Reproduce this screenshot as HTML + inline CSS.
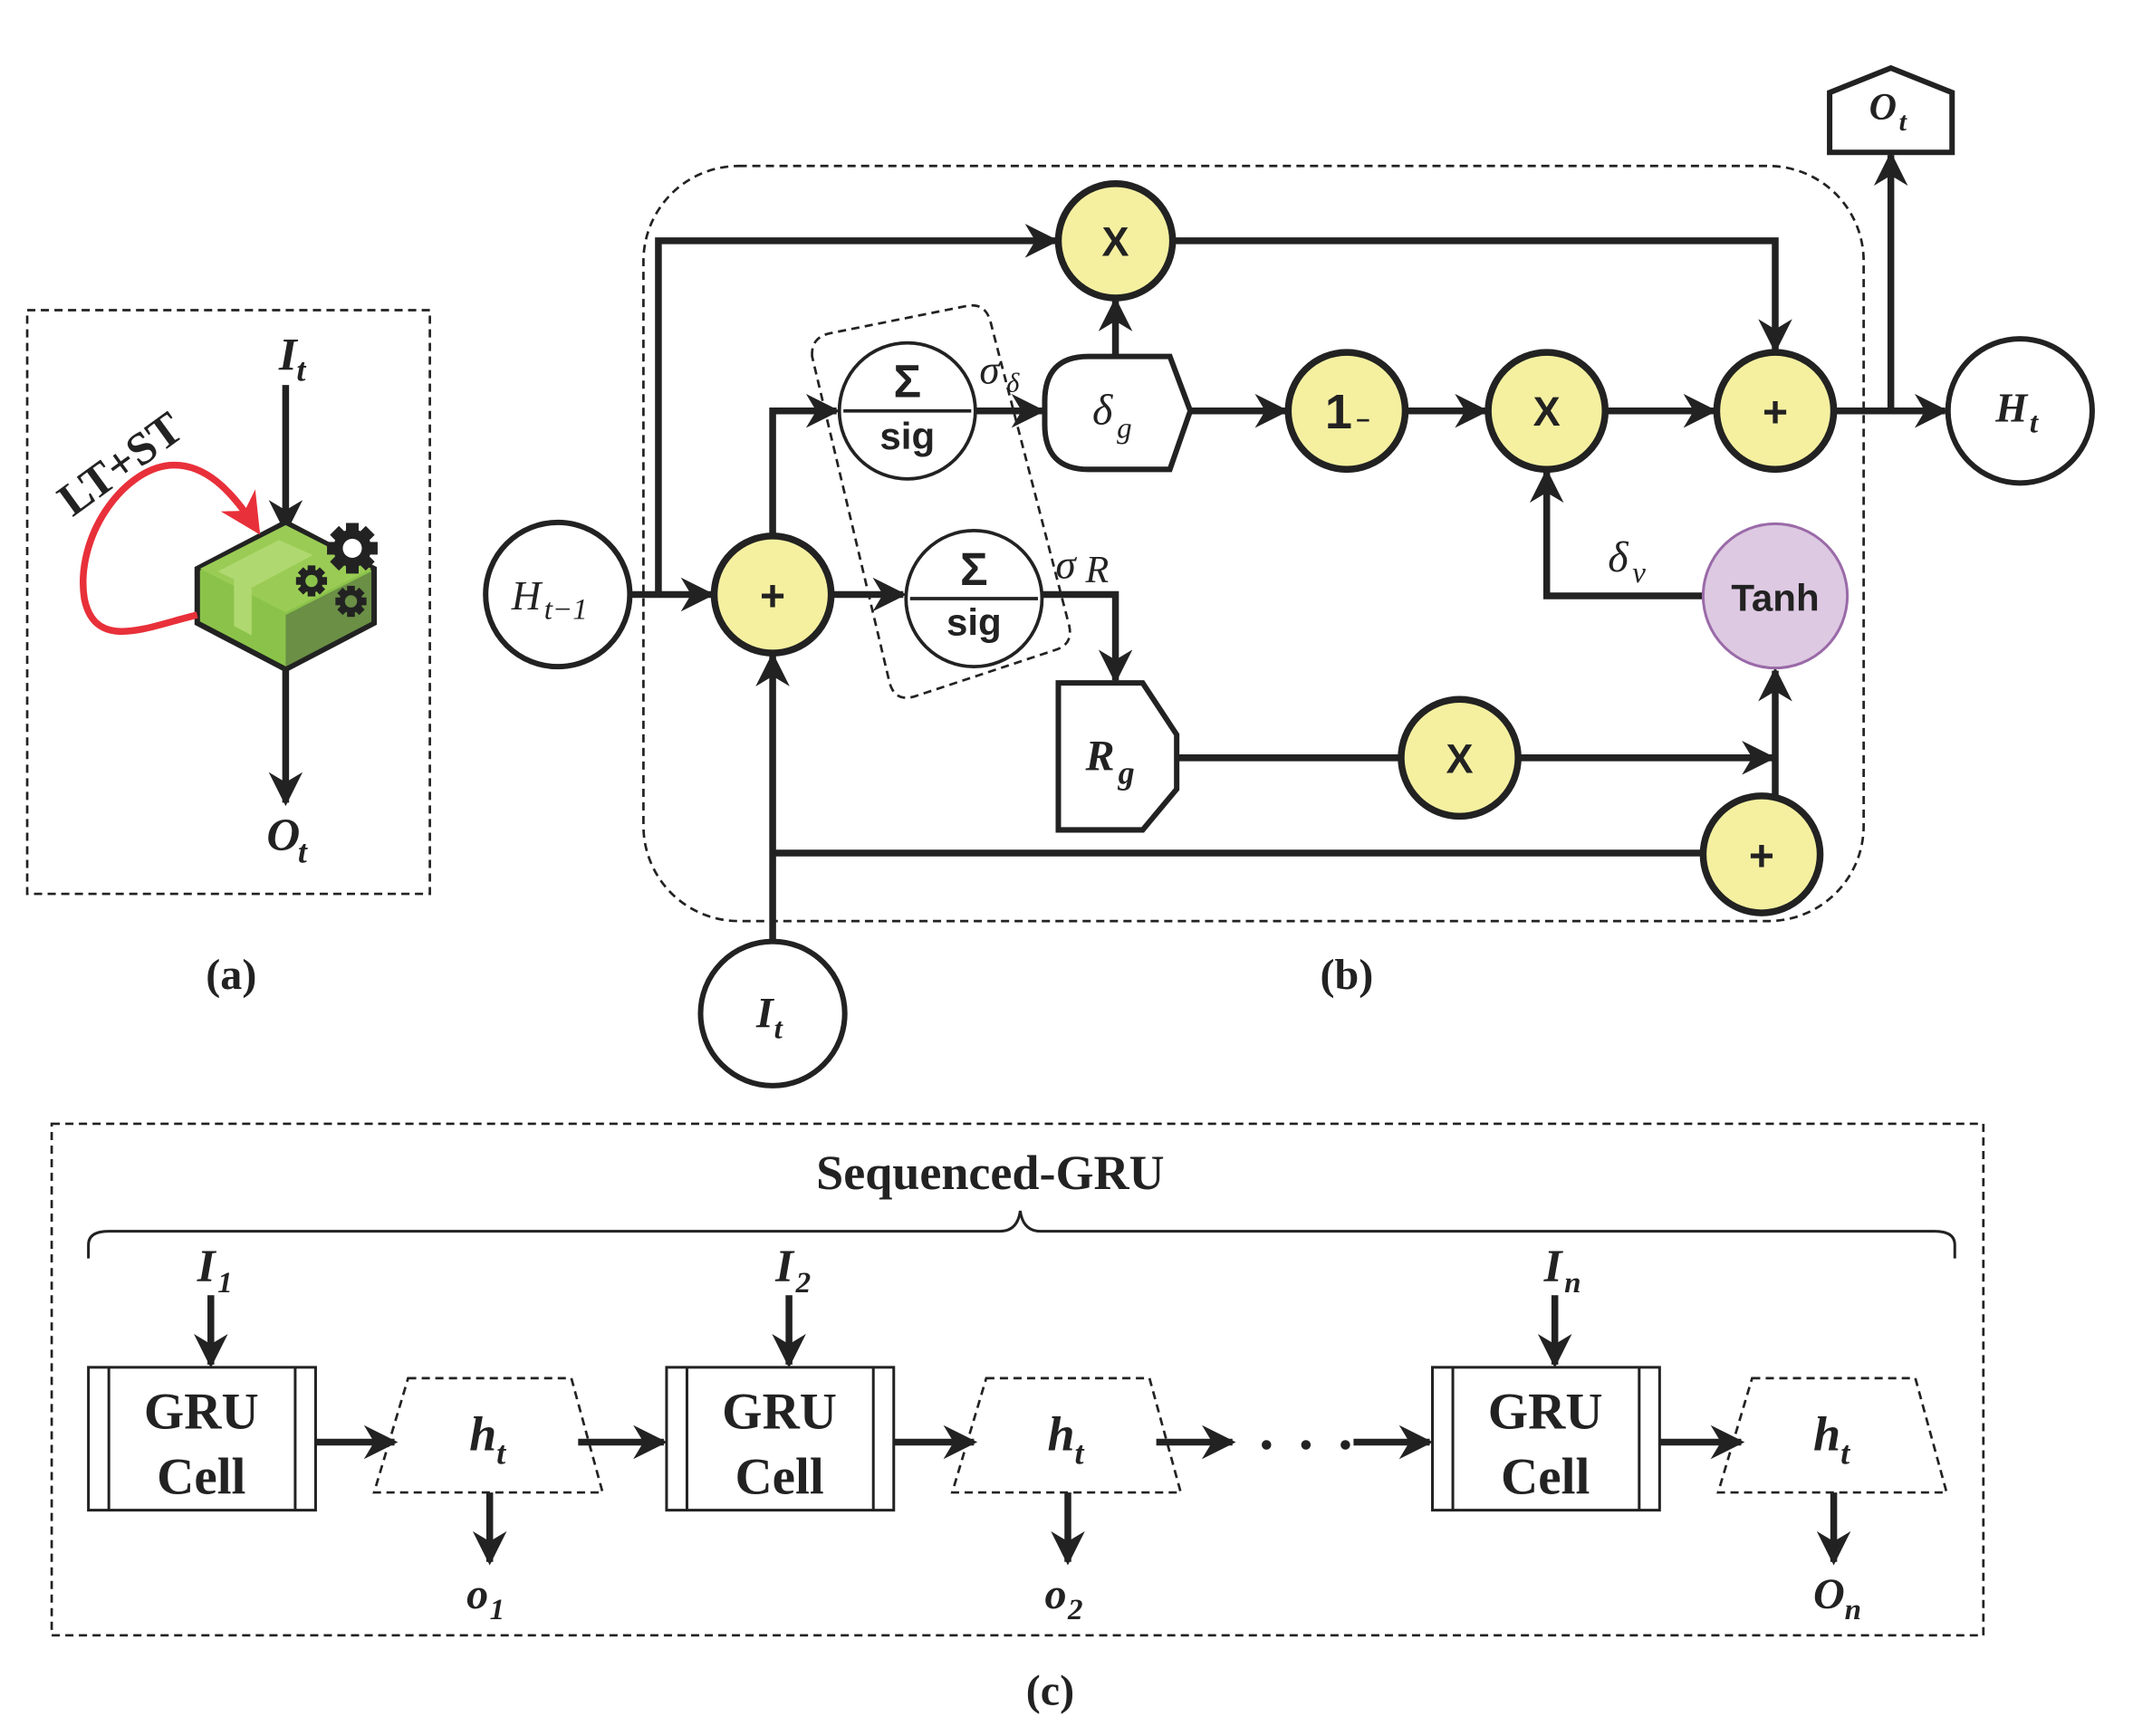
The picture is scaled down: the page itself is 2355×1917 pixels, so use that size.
<!DOCTYPE html>
<html><head><meta charset="utf-8"><style>html,body{margin:0;padding:0;background:#fff}svg{display:block}</style></head><body>
<svg width="2355" height="1917" viewBox="0 0 1568 1276" preserveAspectRatio="none" xmlns="http://www.w3.org/2000/svg">
<defs>
<marker id="a" viewBox="0 0 10 10" refX="9" refY="5" markerWidth="5" markerHeight="5" orient="auto"><path d="M0,0 L10,5 L0,10 L3,5 z" fill="#222"/></marker>
<marker id="ared" viewBox="0 0 10 10" refX="8" refY="5" markerWidth="6" markerHeight="6" orient="auto"><path d="M0,0 L10,5 L0,10 L3,5 z" fill="#e8303a"/></marker>
<g id="gear">
<rect x="-3" y="-12" width="6" height="24" fill="#222"/>
<rect x="-3" y="-12" width="6" height="24" fill="#222" transform="rotate(45)"/>
<rect x="-3" y="-12" width="6" height="24" fill="#222" transform="rotate(90)"/>
<rect x="-3" y="-12" width="6" height="24" fill="#222" transform="rotate(135)"/>
<circle r="9" fill="#222"/>
</g>
</defs>
<style>
.t{font-family:"Liberation Serif",serif;font-weight:bold;font-style:italic;fill:#222}
.m{font-family:"Liberation Serif",serif;font-style:italic;fill:#222}
.s{font-family:"Liberation Sans",sans-serif;font-weight:bold;fill:#222}
.b{font-family:"Liberation Serif",serif;font-weight:bold;fill:#222}
.ln{stroke:#222;stroke-width:5;fill:none}
.y{fill:#f5f0a0;stroke:#222;stroke-width:5}
.w{fill:#fff;stroke:#222;stroke-width:4}
.d{fill:none;stroke:#222;stroke-width:1.8;stroke-dasharray:6,4}
</style>

<!-- (a) -->
<rect x="20" y="228" width="296" height="429" class="d"/>
<text x="205" y="272" class="t" font-size="34">I</text><text x="218" y="280" class="t" font-size="24">t</text>
<line x1="210" y1="283" x2="210" y2="390" class="ln" marker-end="url(#a)"/>
<polygon points="210,384 275,418 275,458 210,492 145,458 145,418" fill="#8bc34a" stroke="#222" stroke-width="4"/>
<polygon points="210,490 273,457 273,420 210,452" fill="#6a8f45"/>
<polygon points="147,418 210,386 273,418 210,450" fill="#9acc55"/>
<polygon points="160,420 205,397 230,408 185,432" fill="#b0d870"/>
<path d="M172,425 L172,460 L185,467 L185,432 Z" fill="#b0d870"/>
<use href="#gear" transform="translate(259,403) scale(1.55)"/>
<circle cx="259" cy="403" r="7" fill="#fff"/>
<use href="#gear" transform="translate(229,427) scale(0.95)"/>
<circle cx="229" cy="427" r="4.5" fill="#8bc34a"/>
<use href="#gear" transform="translate(258,442) scale(0.95)"/>
<circle cx="258" cy="442" r="4.5" fill="#6a8f45"/>
<path d="M145,452 C110,460 70,480 62,440 C55,395 90,345 125,342 C150,340 170,360 188,388" fill="none" stroke="#e8303a" stroke-width="5" marker-end="url(#ared)"/>
<text x="95" y="350" class="b" font-size="34" transform="rotate(-36 95 350)" text-anchor="middle">LT+ST</text>
<line x1="210" y1="492" x2="210" y2="590" class="ln" marker-end="url(#a)"/>
<text x="196" y="625" class="t" font-size="34">O</text><text x="219" y="634" class="t" font-size="24">t</text>
<text x="170" y="727" class="b" font-size="32" text-anchor="middle">(a)</text>

<!-- (b) -->
<rect x="473" y="122" width="897" height="555" rx="70" class="d"/>
<path d="M597,262 Q596,248 610,245 L710,225 Q724,222 728,236 L786,460 Q789,474 775,478 L672,512 Q658,516 654,502 Z" class="d"/>
<line x1="463" y1="437" x2="523" y2="437" class="ln" marker-end="url(#a)"/>
<polyline points="484,437 484,177 776,177" class="ln" marker-end="url(#a)"/>
<polyline points="568,394 568,302 615,302" class="ln" marker-end="url(#a)"/>
<line x1="611" y1="437" x2="664" y2="437" class="ln" marker-end="url(#a)"/>
<line x1="717" y1="302" x2="766" y2="302" class="ln" marker-end="url(#a)"/>
<line x1="820" y1="262" x2="820" y2="221" class="ln" marker-end="url(#a)"/>
<line x1="875" y1="302" x2="945" y2="302" class="ln" marker-end="url(#a)"/>
<line x1="1033" y1="302" x2="1092" y2="302" class="ln" marker-end="url(#a)"/>
<line x1="1180" y1="302" x2="1260" y2="302" class="ln" marker-end="url(#a)"/>
<line x1="1348" y1="302" x2="1430" y2="302" class="ln" marker-end="url(#a)"/>
<line x1="1390" y1="302" x2="1390" y2="114" class="ln" marker-end="url(#a)"/>
<polyline points="862,177 1305,177 1305,257" class="ln" marker-end="url(#a)"/>
<polyline points="1252,438 1137,438 1137,347" class="ln" marker-end="url(#a)"/>
<polyline points="766,437 820,437 820,500" class="ln" marker-end="url(#a)"/>
<line x1="865" y1="557" x2="1030" y2="557" class="ln"/>
<line x1="1116" y1="557" x2="1303" y2="557" class="ln" marker-end="url(#a)"/>
<line x1="1305" y1="585" x2="1305" y2="493" class="ln" marker-end="url(#a)"/>
<line x1="568" y1="627" x2="1252" y2="627" class="ln"/>
<line x1="568" y1="692" x2="568" y2="482" class="ln" marker-end="url(#a)"/>

<circle cx="410" cy="437" r="53" class="w"/>
<text x="376" y="448" class="m" font-size="30">H</text><text x="400" y="455" class="m" font-size="22">t−1</text>
<circle cx="568" cy="437" r="43" class="y"/><text x="568" y="449" class="s" font-size="32" text-anchor="middle">+</text>
<circle cx="820" cy="177" r="42" class="y"/><text x="820" y="188" class="s" font-size="30" text-anchor="middle">X</text>
<circle cx="667" cy="302" r="50" fill="#fff" stroke="#222" stroke-width="2.5"/>
<line x1="620" y1="302" x2="714" y2="302" stroke="#222" stroke-width="2.5"/>
<text x="667" y="292" class="s" font-size="34" text-anchor="middle">Σ</text><text x="667" y="330" class="s" font-size="28" text-anchor="middle">sig</text>
<circle cx="716" cy="440" r="50" fill="#fff" stroke="#222" stroke-width="2.5"/>
<line x1="669" y1="440" x2="763" y2="440" stroke="#222" stroke-width="2.5"/>
<text x="716" y="430" class="s" font-size="34" text-anchor="middle">Σ</text><text x="716" y="467" class="s" font-size="28" text-anchor="middle">sig</text>
<text x="720" y="282" class="m" font-size="30">σ</text><text x="740" y="288" class="m" font-size="20">δ</text>
<text x="776" y="425" class="m" font-size="30">σ</text><text x="798" y="428" class="m" font-size="28">R</text>
<path d="M800,262 L860,262 L875,302 L860,345 L800,345 Q768,345 768,312 L768,295 Q768,262 800,262 Z" class="w" stroke-width="5"/>
<text x="803" y="312" class="m" font-size="32">δ</text><text x="821" y="322" class="m" font-size="22">g</text>
<circle cx="990" cy="302" r="43" class="y"/><text x="984" y="315" class="s" font-size="36" text-anchor="middle">1</text><text x="997" y="314" class="s" font-size="18">–</text>
<circle cx="1137" cy="302" r="43" class="y"/><text x="1137" y="313" class="s" font-size="30" text-anchor="middle">X</text>
<circle cx="1305" cy="302" r="43" class="y"/><text x="1305" y="314" class="s" font-size="32" text-anchor="middle">+</text>
<circle cx="1485" cy="302" r="53" class="w"/>
<text x="1467" y="310" class="t" font-size="30">H</text><text x="1492" y="318" class="t" font-size="22">t</text>
<polygon points="1345,112 1345,68 1390,50 1435,68 1435,112" class="w" stroke-width="5"/>
<text x="1374" y="88" class="t" font-size="28">O</text><text x="1396" y="96" class="t" font-size="20">t</text>
<circle cx="1305" cy="438" r="53" fill="#ddc9e2" stroke="#9a6aa8" stroke-width="2"/>
<text x="1305" y="449" class="s" font-size="28" text-anchor="middle">Tanh</text>
<text x="1182" y="420" class="m" font-size="32">δ</text><text x="1200" y="428" class="m" font-size="22">v</text>
<polygon points="778,502 840,502 865,540 865,580 840,610 778,610" class="w" stroke-width="5"/>
<text x="798" y="566" class="t" font-size="32">R</text><text x="822" y="576" class="t" font-size="24">g</text>
<circle cx="1073" cy="557" r="43" class="y"/><text x="1073" y="568" class="s" font-size="30" text-anchor="middle">X</text>
<circle cx="1295" cy="628" r="43" class="y"/><text x="1295" y="640" class="s" font-size="32" text-anchor="middle">+</text>
<circle cx="568" cy="745" r="53" class="w"/>
<text x="556" y="755" class="t" font-size="32">I</text><text x="569" y="763" class="t" font-size="22">t</text>
<text x="990" y="727" class="b" font-size="32" text-anchor="middle">(b)</text>

<!-- (c) -->
<rect x="38" y="826" width="1420" height="376" class="d"/>
<text x="728" y="874" class="b" font-size="36" text-anchor="middle">Sequenced-GRU</text>
<path d="M65,925 L65,915 Q65,905 80,905 L735,905 Q748,905 750,890 Q752,905 765,905 L1422,905 Q1437,905 1437,915 L1437,925" fill="none" stroke="#222" stroke-width="2"/>

<g>
<text x="145" y="942" class="t" font-size="34">I</text><text x="160" y="950" class="t" font-size="22">1</text>
<line x1="155" y1="952" x2="155" y2="1003" class="ln" marker-end="url(#a)"/>
<rect x="65" y="1005" width="167" height="105" fill="#fff" stroke="#222" stroke-width="2"/>
<line x1="80" y1="1005" x2="80" y2="1110" stroke="#222" stroke-width="2"/><line x1="217" y1="1005" x2="217" y2="1110" stroke="#222" stroke-width="2"/>
<text x="148" y="1050" class="b" font-size="38" text-anchor="middle">GRU</text><text x="148" y="1098" class="b" font-size="38" text-anchor="middle">Cell</text>
<line x1="232" y1="1060" x2="290" y2="1060" class="ln" marker-end="url(#a)"/>
<polygon points="300,1013 420,1013 443,1097 275,1097" class="d"/>
<text x="345" y="1066" class="t" font-size="36">h</text><text x="365" y="1076" class="t" font-size="24">t</text>
<line x1="360" y1="1097" x2="360" y2="1148" class="ln" marker-end="url(#a)"/>
<text x="343" y="1182" class="t" font-size="32">o</text><text x="360" y="1190" class="t" font-size="22">1</text>
<line x1="425" y1="1060" x2="488" y2="1060" class="ln" marker-end="url(#a)"/>
</g>
<g>
<text x="570" y="942" class="t" font-size="34">I</text><text x="585" y="950" class="t" font-size="22">2</text>
<line x1="580" y1="952" x2="580" y2="1003" class="ln" marker-end="url(#a)"/>
<rect x="490" y="1005" width="167" height="105" fill="#fff" stroke="#222" stroke-width="2"/>
<line x1="505" y1="1005" x2="505" y2="1110" stroke="#222" stroke-width="2"/><line x1="642" y1="1005" x2="642" y2="1110" stroke="#222" stroke-width="2"/>
<text x="573" y="1050" class="b" font-size="38" text-anchor="middle">GRU</text><text x="573" y="1098" class="b" font-size="38" text-anchor="middle">Cell</text>
<line x1="657" y1="1060" x2="716" y2="1060" class="ln" marker-end="url(#a)"/>
<polygon points="725,1013 845,1013 868,1097 700,1097" class="d"/>
<text x="770" y="1066" class="t" font-size="36">h</text><text x="790" y="1076" class="t" font-size="24">t</text>
<line x1="785" y1="1097" x2="785" y2="1148" class="ln" marker-end="url(#a)"/>
<text x="768" y="1182" class="t" font-size="32">o</text><text x="785" y="1190" class="t" font-size="22">2</text>
<line x1="850" y1="1060" x2="906" y2="1060" class="ln" marker-end="url(#a)"/>
<circle cx="931" cy="1062" r="3.5" fill="#222"/><circle cx="960" cy="1062" r="3.5" fill="#222"/><circle cx="989" cy="1062" r="3.5" fill="#222"/>
<line x1="995" y1="1060" x2="1051" y2="1060" class="ln" marker-end="url(#a)"/>
</g>
<g>
<text x="1135" y="942" class="t" font-size="34">I</text><text x="1150" y="950" class="t" font-size="22">n</text>
<line x1="1143" y1="952" x2="1143" y2="1003" class="ln" marker-end="url(#a)"/>
<rect x="1053" y="1005" width="167" height="105" fill="#fff" stroke="#222" stroke-width="2"/>
<line x1="1068" y1="1005" x2="1068" y2="1110" stroke="#222" stroke-width="2"/><line x1="1205" y1="1005" x2="1205" y2="1110" stroke="#222" stroke-width="2"/>
<text x="1136" y="1050" class="b" font-size="38" text-anchor="middle">GRU</text><text x="1136" y="1098" class="b" font-size="38" text-anchor="middle">Cell</text>
<line x1="1220" y1="1060" x2="1280" y2="1060" class="ln" marker-end="url(#a)"/>
<polygon points="1288,1013 1408,1013 1431,1097 1263,1097" class="d"/>
<text x="1333" y="1066" class="t" font-size="36">h</text><text x="1353" y="1076" class="t" font-size="24">t</text>
<line x1="1348" y1="1097" x2="1348" y2="1148" class="ln" marker-end="url(#a)"/>
<text x="1333" y="1182" class="t" font-size="32">O</text><text x="1356" y="1190" class="t" font-size="22">n</text>
</g>
<text x="772" y="1253" class="b" font-size="32" text-anchor="middle">(c)</text>
</svg>
</body></html>
